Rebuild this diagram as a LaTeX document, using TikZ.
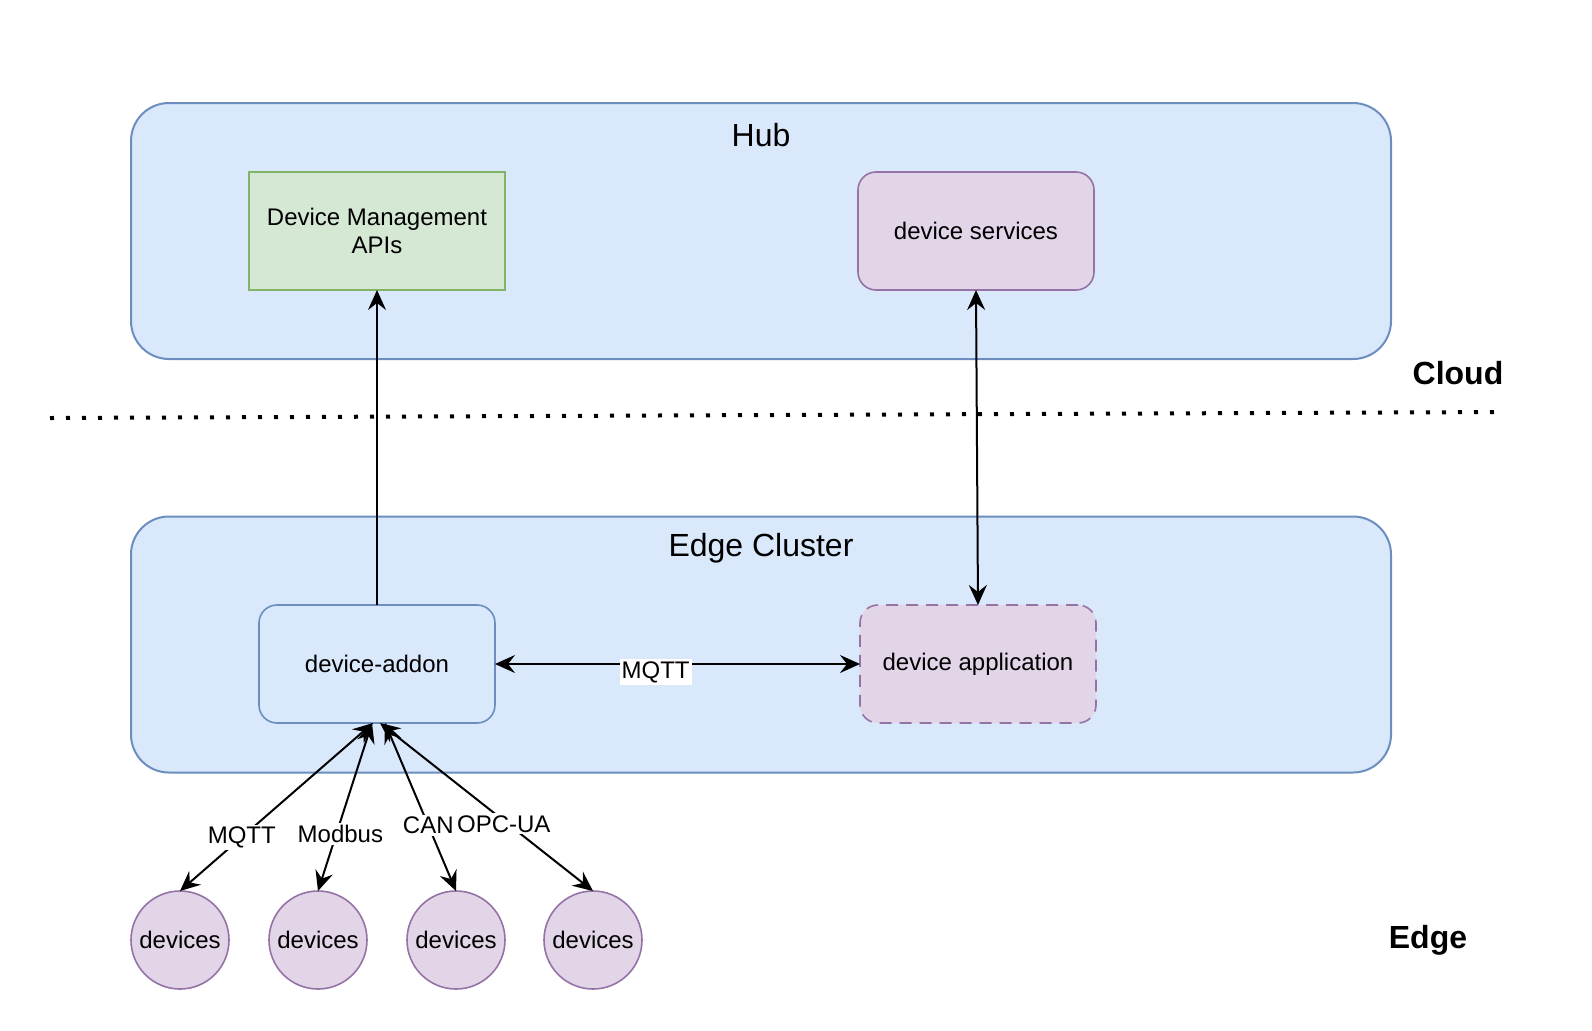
\documentclass[tikz,border=0pt]{standalone}
\usepackage{fontspec}
\setmainfont{Liberation Sans}
\usetikzlibrary{arrows.meta}
\definecolor{bluefill}{HTML}{DAE8FC}
\definecolor{bluedraw}{HTML}{6C8EBF}
\definecolor{greenfill}{HTML}{D5E8D4}
\definecolor{greendraw}{HTML}{82B366}
\definecolor{purplefill}{HTML}{E1D5E7}
\definecolor{purpledraw}{HTML}{9673A6}
\tikzset{
  container/.style={draw=bluedraw, fill=bluefill, line width=1pt, rounded corners=19pt, minimum width=630pt, minimum height=128pt, inner sep=0pt, outer sep=0pt},
  ctitle/.style={font=\fontsize{16pt}{19pt}\selectfont, inner sep=0pt},
  side/.style={font=\bfseries\fontsize{16pt}{19pt}\selectfont, inner sep=0pt},
  boxbase/.style={line width=0.8pt, minimum width=118pt, minimum height=59pt, inner sep=0pt, outer sep=0pt, align=center, font=\fontsize{12pt}{14.4pt}\selectfont},
  greenbox/.style={boxbase, draw=greendraw, fill=greenfill},
  purplebox/.style={boxbase, draw=purpledraw, fill=purplefill, rounded corners=9pt},
  bluebox/.style={boxbase, draw=bluedraw, fill=bluefill, rounded corners=9pt},
  devcircle/.style={circle, draw=purpledraw, fill=purplefill, line width=0.8pt, minimum size=49pt, inner sep=0pt, outer sep=0pt, font=\fontsize{12pt}{14.4pt}\selectfont},
  lbl/.style={fill=white, inner sep=1pt, font=\fontsize{12pt}{14.4pt}\selectfont},
  arr/.style={line width=1pt, -{Stealth[length=10pt,width=9pt,inset=3.5pt]}},
  darr/.style={line width=1pt, {Stealth[length=10pt,width=9pt,inset=3.5pt]}-{Stealth[length=10pt,width=9pt,inset=3.5pt]}},
}
\begin{document}
\begin{tikzpicture}[x=0.5pt,y=-0.5pt]
\useasboundingbox (0,0) rectangle (1592,1030);
% containers
\node[container] (hub) at (761,231) {};
\node[ctitle] (hubl) at (761,135) {Hub};
\node[container] (edge) at (761,644.5) {};
\node[ctitle] (edgel) at (761,548) {Edge Cluster};
% side labels
\node[side] (cloudl) at (1458,373) {Cloud};
\node[side] (edgesl) at (1428,940) {Edge};
% dotted separator
\draw[line width=2pt, dash pattern=on 2pt off 6pt] (50,418) -- (1505,412);
% boxes
\node[greenbox, minimum width=128pt] (dma) at (377,231) {Device Management\\APIs};
\node[purplebox] (services) at (976,231) {device services};
\node[bluebox] (addon) at (377,664) {device-addon};
\node[purplebox, dashed, dash pattern=on 6pt off 4pt] (app) at (978,664) {device application};
% devices
\node[devcircle] (d1) at (180,940) {devices};
\node[devcircle] (d2) at (318,940) {devices};
\node[devcircle] (d3) at (456,940) {devices};
\node[devcircle] (d4) at (593,940) {devices};
% connectors
\draw[arr] (addon.north) -- (dma.south);
\draw[darr] (services.south) -- (app.north);
\draw[darr] (addon.east) -- node[lbl, pos=0.44, yshift=-4pt] {MQTT} (app.west);
\draw[darr] ([xshift=-2pt]addon.south) -- node[lbl, pos=0.68] {MQTT} (d1.north);
\draw[darr] ([xshift=-2.5pt]addon.south) -- node[lbl, pos=0.66, xshift=2pt] {Modbus} (d2.north);
\draw[darr] ([xshift=4pt]addon.south) -- node[lbl, pos=0.61] {CAN} (d3.north);
\draw[darr] ([xshift=1.5pt]addon.south) -- node[lbl, pos=0.6, xshift=-2pt] {OPC-UA} (d4.north);
\end{tikzpicture}
\end{document}
